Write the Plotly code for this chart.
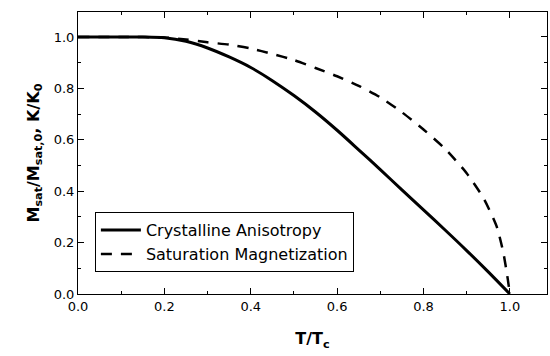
import plotly.graph_objects as go

t_aniso = [0.0, 0.1, 0.15, 0.2, 0.25, 0.3, 0.35, 0.4, 0.45, 0.5, 0.55, 0.6, 0.65, 0.7, 0.75, 0.8, 0.85, 0.9, 0.95, 1.0]
k_aniso = [1.0, 1.0, 1.0, 0.997, 0.983, 0.957, 0.922, 0.881, 0.83, 0.772, 0.708, 0.637, 0.561, 0.484, 0.405, 0.327, 0.249, 0.169, 0.086, 0.0]

t_sat = [0.0, 0.1, 0.2, 0.25, 0.3, 0.35, 0.4, 0.45, 0.5, 0.55, 0.6, 0.65, 0.7, 0.75, 0.8, 0.85, 0.9, 0.94, 0.97, 0.985, 0.995, 1.0]
m_sat = [1.0, 1.0, 0.998, 0.99, 0.979, 0.97, 0.955, 0.934, 0.91, 0.879, 0.847, 0.81, 0.765, 0.707, 0.64, 0.565, 0.47, 0.37, 0.26, 0.16, 0.06, 0.0]

x_ticks = [0.0, 0.2, 0.4, 0.6, 0.8, 1.0]
y_ticks = [0.0, 0.2, 0.4, 0.6, 0.8, 1.0]

FONT = "DejaVu Sans"

fig = go.Figure()
fig.add_trace(go.Scatter(x=t_aniso, y=k_aniso, mode="lines", name="Crystalline Anisotropy",
                         line=dict(color="black", width=3, shape="spline", smoothing=0.8)))
fig.add_trace(go.Scatter(x=t_sat, y=m_sat, mode="lines", name="Saturation Magnetization",
                         line=dict(color="black", width=2.5, dash="11px,9px", shape="spline", smoothing=0.6)))

axis_common = dict(showgrid=False, zeroline=False, showline=True, linecolor="black", linewidth=1,
                   mirror="ticks", ticks="inside", ticklen=6, tickcolor="black",
                   tickfont=dict(family=FONT, size=13, color="black"))

fig.update_xaxes(range=[0, 1.086], tickvals=x_ticks, ticktext=[f"{v:.1f}" for v in x_ticks],
                 minor=dict(ticks="inside", ticklen=3, dtick=0.1, tick0=0, tickcolor="black"),
                 title=dict(text="<b>T/T<sub>c</sub></b>", font=dict(family=FONT, size=16, color="black"), standoff=20),
                 **axis_common)
fig.update_yaxes(range=[0, 1.097], tickvals=y_ticks, ticktext=[f"{v:.1f}" for v in y_ticks],
                 minor=dict(ticks="inside", ticklen=3, dtick=0.1, tick0=0, tickcolor="black"),
                 title=dict(text="<b>M<sub>sat</sub>/M<sub>sat,0</sub>, K/K<sub>0</sub></b>", font=dict(family=FONT, size=16, color="black"), standoff=10),
                 **axis_common)

fig.update_layout(
    width=550, height=356,
    margin=dict(l=78, r=3, t=12, b=62),
    plot_bgcolor="white", paper_bgcolor="white",
    legend=dict(x=0.036, y=0.29, xanchor="left", yanchor="top",
                bordercolor="black", borderwidth=1, bgcolor="white",
                font=dict(family=FONT, size=16, color="black"),
                tracegroupgap=0, itemwidth=40),
)

fig.write_html("out.html")
